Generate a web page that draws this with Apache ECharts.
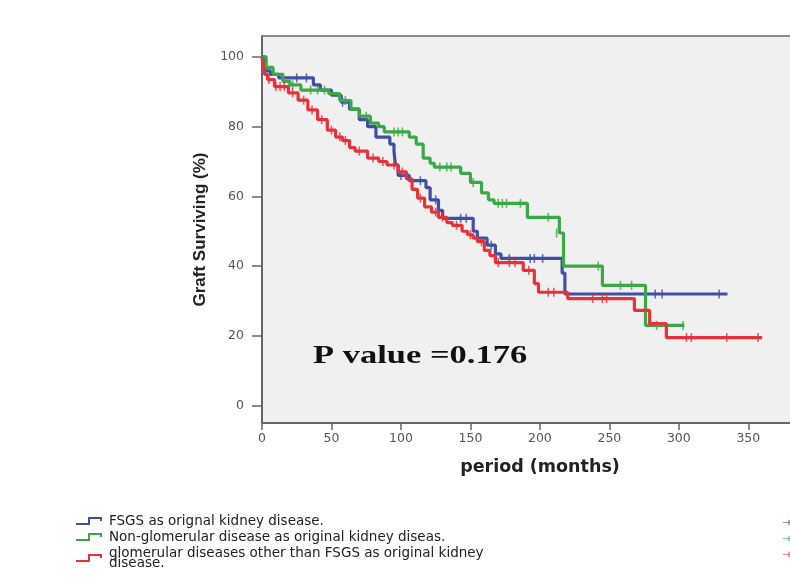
<!DOCTYPE html>
<html>
<head>
<meta charset="utf-8">
<script src="https://cdn.jsdelivr.net/npm/echarts@6/dist/echarts.min.js"></script>
<style>
  html, body { margin: 0; padding: 0; background: #fff; }
  #chart { width: 790px; height: 582px; }
</style>
</head>
<body>
<div id="chart"></div>
<script>
// group names, as in the legend
const groupNames = [
  'FSGS as orignal kidney disease.',
  'Non-glomerular disease as original kidney diseas.',
  'glomerular diseases other than FSGS as original kidney\ndisease.'
];
const groupColors = ['#3f4fa3', '#3aa845', '#e5323b'];

// Kaplan-Meier steps: [months, survival % after the step]
const fsgsSteps = [
  [0, 100], [2, 96], [6, 95], [12, 94], [37, 92], [42, 90.5], [50, 89], [57, 87],
  [63, 85], [70, 82], [76, 80], [82, 77], [92, 75], [95, 73], [96, 69], [98, 66],
  [106, 64.5], [118, 62.5], [121, 59], [127, 56], [130, 53.7], [152, 50], [155, 48],
  [162, 46], [168, 43.5], [172, 42.2], [216, 38], [218, 32], [335, 32]
];
const nonGlomSteps = [
  [0, 100], [3, 97], [8, 95], [15, 93], [20, 92], [28, 90.5], [48, 89.5], [56, 87.5],
  [64, 85], [70, 83], [78, 81], [84, 80], [88, 78.5], [106, 77], [111, 75], [116, 71],
  [121, 69.5], [124, 68.4], [143, 66.6], [150, 64], [158, 61], [163, 59], [167, 58],
  [191, 54], [214, 49.5], [217, 40], [245, 34.5], [276, 23], [304, 23]
];
const glomSteps = [
  [0, 100], [1, 97], [2, 95], [4, 93.5], [9, 91.5], [19, 89.7], [26, 87.6], [33, 84.8],
  [40, 82], [47, 79], [53, 77], [58, 76], [63, 74], [67, 73], [76, 71], [84, 70],
  [90, 69], [98, 67], [104, 65], [108, 62], [112, 59.5], [117, 57], [122, 55.5],
  [127, 54], [133, 52.5], [137, 51.7], [144, 50], [148, 49], [152, 48], [155, 47],
  [160, 44.5], [164, 43], [168, 41], [188, 38.8], [196, 35], [199, 32.5], [220, 30.7],
  [268, 27.3], [279, 23.5], [291, 19.5], [360, 19.5]
];

// censored observations: [months, survival %]
const fsgsCensored = [
  [15, 94], [25, 94], [32, 94], [58, 87], [100, 66], [114, 64.5], [125, 59], [143, 53.7],
  [147, 53.7], [165, 46], [178, 42.2], [193, 42.2], [196, 42.2], [202, 42.2],
  [283, 32], [288, 32], [329, 32]
];
const nonGlomCensored = [
  [22, 92], [35, 90.5], [40, 90.5], [45, 90.5], [60, 87.5], [75, 83], [95, 78.5],
  [98, 78.5], [101, 78.5], [128, 68.4], [133, 68.4], [136, 68.4], [152, 64], [170, 58],
  [173, 58], [176, 58], [186, 58], [206, 54], [212, 49.5], [242, 40], [258, 34.5],
  [266, 34.5], [284, 23], [303, 23]
];
const glomCensored = [
  [5, 93.5], [10, 91.5], [13, 91.5], [16, 91.5], [22, 89.7], [30, 87.6], [36, 84.8],
  [43, 82], [50, 79], [56, 77], [60, 76], [70, 73], [80, 71], [87, 70], [95, 69],
  [101, 67], [114, 59.5], [125, 55.5], [130, 54], [140, 51.7], [150, 49], [158, 47],
  [170, 41], [178, 41], [182, 41], [192, 38.8], [206, 32.5], [210, 32.5], [238, 30.7],
  [245, 30.7], [248, 30.7], [305.5, 19.5], [309, 19.5], [334.5, 19.5], [357, 19.5]
];

const xTicks = [0, 50, 100, 150, 200, 250, 300, 350];
const yTicks = [0, 20, 40, 60, 80, 100];

const stepsByGroup = [fsgsSteps, nonGlomSteps, glomSteps];
const censoredByGroup = [fsgsCensored, nonGlomCensored, glomCensored];

const stepIcon = 'path://M0,6 L12,6 L12,0 L26,0 L26,4 L24,4 L24,2 L14,2 L14,8 L0,8 Z';
const plusIcon = 'path://M0,4 L20,4 L20,5.5 L0,5.5 Z M9,0 L11,0 L11,9 L9,9 Z';

const series = [];
groupNames.forEach((name, i) => {
  series.push({
    name,
    type: 'line',
    step: 'end',
    data: stepsByGroup[i],
    showSymbol: false,
    lineStyle: { color: groupColors[i], width: 3.2 },
    itemStyle: { color: groupColors[i] },
    z: 2 + i,
    silent: true
  });
});
groupNames.forEach((name, i) => {
  series.push({
    name: name.replace('\n', ' ') + '-censored',
    type: 'scatter',
    data: censoredByGroup[i],
    symbol: 'rect',
    symbolSize: [1.6, 9],
    itemStyle: { color: groupColors[i] },
    z: 2 + i,
    silent: true
  });
});

const wideFont = 'DejaVu Sans, Verdana, sans-serif';
const axisFont = { fontFamily: wideFont, fontSize: 12.5, color: '#555' };

const chart = echarts.init(document.getElementById('chart'), null, { renderer: 'canvas' });
chart.setOption({
  animation: false,
  backgroundColor: '#ffffff',
  grid: {
    left: 262, top: 36, right: 0, bottom: 159,
    show: true, backgroundColor: '#f0f0f0', borderWidth: 0
  },
  legend: [{
    data: groupNames,
    orient: 'vertical',
    left: 76, top: 514, height: 68,
    padding: 0,
    itemWidth: 30, itemHeight: 8, itemGap: 2,
    icon: stepIcon,
    textStyle: { fontFamily: wideFont, fontSize: 13.5, color: '#222', lineHeight: 10 },
    selectedMode: false
  }, {
    data: groupNames.map(n => n.replace('\n', ' ') + '-censored'),
    orient: 'vertical',
    left: 783, top: 516, height: 66,
    padding: 0,
    itemWidth: 12, itemHeight: 8, itemGap: 3,
    icon: plusIcon,
    textStyle: { fontFamily: wideFont, fontSize: 12.5, color: '#222', lineHeight: 10 },
    selectedMode: false
  }],
  xAxis: [{
    type: 'value',
    min: 0, max: 380,
    name: 'period (months)',
    nameLocation: 'middle',
    nameGap: 35,
    nameTextStyle: {
      fontFamily: wideFont, fontSize: 17.5, fontWeight: 'bold', color: '#222',
      padding: [0, 0, 0, 28]
    },
    axisLine: { show: true, onZero: false, lineStyle: { color: '#666', width: 2 } },
    axisTick: { show: true, length: 7, customValues: xTicks, lineStyle: { color: '#666', width: 1.5 } },
    axisLabel: { customValues: xTicks, margin: 9, ...axisFont },
    splitLine: { show: false }
  }, {
    type: 'value',
    position: 'top',
    min: 0, max: 380,
    axisLine: { show: true, onZero: false, lineStyle: { color: '#8a8a8a', width: 2 } },
    axisTick: { show: false },
    axisLabel: { show: false },
    splitLine: { show: false }
  }],
  yAxis: {
    type: 'value',
    min: -5, max: 106,
    name: 'Graft Surviving (%)',
    nameLocation: 'middle',
    nameGap: 44,
    nameTextStyle: { fontFamily: 'Liberation Sans, Arial, sans-serif', fontSize: 17, fontWeight: 'bold', color: '#222' },
    axisLine: { show: true, onZero: false, lineStyle: { color: '#666', width: 2 } },
    axisTick: { show: true, length: 10, customValues: yTicks, lineStyle: { color: '#666', width: 1.5 } },
    axisLabel: { customValues: yTicks, margin: 18, ...axisFont },
    splitLine: { show: false }
  },
  graphic: [{
    type: 'text',
    left: 313, top: 344,
    scaleX: 1.38,
    style: {
      text: 'P value =0.176',
      font: 'bold 25px "Liberation Serif", "Times New Roman", serif',
      fill: '#111'
    },
    z: 10
  }],
  series
});

window.addEventListener('resize', () => chart.resize());
</script>
</body>
</html>
